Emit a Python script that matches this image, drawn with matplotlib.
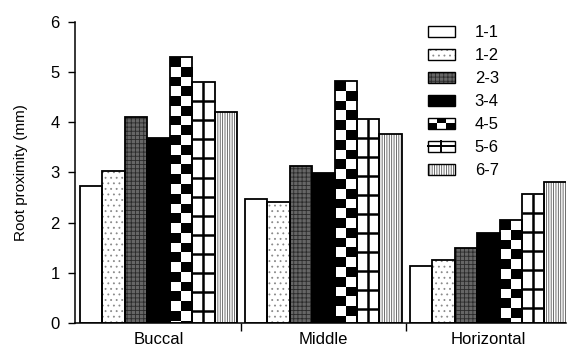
import numpy as np
import matplotlib
matplotlib.use('Agg')
import matplotlib.pyplot as plt
from matplotlib.patches import Rectangle
from matplotlib.lines import Line2D
from matplotlib.legend_handler import HandlerBase

plt.rcParams['font.family'] = ['Liberation Sans', 'DejaVu Sans']
plt.rcParams['hatch.linewidth'] = 0.6

# data (mm)
regions = ['Buccal', 'Middle', 'Horizontal']
pairs = ['1-1', '1-2', '2-3', '3-4', '4-5', '5-6', '6-7']
buccal = [2.74, 3.02, 4.10, 3.69, 5.31, 4.80, 4.20]
middle = [2.48, 2.41, 3.12, 2.98, 4.82, 4.07, 3.77]
horizontal = [1.13, 1.25, 1.50, 1.80, 2.05, 2.58, 2.82]
yticks = [0, 1, 2, 3, 4, 5, 6]

# fill style of each tooth pair
styles = {
    '1-1': dict(fc='white'),
    '1-2': dict(fc='white', hatch='...', hc='#8a8a8a'),
    '2-3': dict(fc='#666666', hatch='++++', hc='#2a2a2a'),
    '3-4': dict(fc='black'),
    '4-5': dict(kind='checker'),
    '5-6': dict(kind='grid'),
    '6-7': dict(fc='white', hatch='|||||||', hc='#555555'),
}
cell_checker = 0.195
cell_grid = 0.38


class PatternHandler(HandlerBase):
    def create_artists(self, legend, orig_handle, xdescent, ydescent,
                       width, height, fontsize, trans):
        st = styles[orig_handle.get_label()]
        x0, y0 = -xdescent, -ydescent
        arts = []
        kind = st.get('kind')
        if kind == 'checker':
            arts.append(Rectangle((x0, y0), width, height, fc='white', ec='none', transform=trans))
            cw, ch = width / 3, height / 2
            for c in range(3):
                for r in range(2):
                    if (c + r) % 2 == 0:
                        arts.append(Rectangle((x0 + c * cw, y0 + r * ch), cw, ch,
                                              fc='black', ec='none', transform=trans))
        elif kind == 'grid':
            arts.append(Rectangle((x0, y0), width, height, fc='white', ec='none', transform=trans))
            arts.append(Line2D([x0 + width / 2] * 2, [y0, y0 + height], color='black', lw=1.4, transform=trans))
            arts.append(Line2D([x0, x0 + width], [y0 + height / 2] * 2, color='black', lw=1.4, transform=trans))
        else:
            arts.append(Rectangle((x0, y0), width, height, fc=st['fc'], ec=st.get('hc', 'none'),
                                  lw=0, hatch=st.get('hatch'), transform=trans))
        arts.append(Rectangle((x0, y0), width, height, fill=False, ec='black', lw=1.0, transform=trans))
        return arts


fig = plt.figure(figsize=(5.7, 3.55), dpi=100)
ax = fig.add_axes([0.1316, 0.0910, 0.8614, 0.8462])

x = np.arange(len(regions))
bw = 0.1358
vals = np.array([buccal, middle, horizontal])

for i, p in enumerate(pairs):
    xs = x + (i - 3) * bw
    h = vals[:, i]
    st = styles[p]
    kind = st.get('kind')
    if kind == 'checker':
        bars = ax.bar(xs, h, bw, color='white', linewidth=0, zorder=1)
        for b in bars:
            x0, w, hh = b.get_x(), b.get_width(), b.get_height()
            nr = int(np.ceil(hh / cell_checker))
            img = np.add.outer(np.arange(nr)[::-1], np.arange(2)) % 2
            im = ax.imshow(img, cmap='gray', origin='lower', aspect='auto',
                           interpolation='nearest', zorder=2,
                           extent=(x0, x0 + w, hh - nr * cell_checker, hh))
            im.set_clip_path(b)
    elif kind == 'grid':
        bars = ax.bar(xs, h, bw, color='white', linewidth=0, zorder=1)
        for b in bars:
            x0, w, hh = b.get_x(), b.get_width(), b.get_height()
            ys = np.arange(hh - cell_grid, 0.05, -cell_grid)
            ax.hlines(ys, x0, x0 + w, color='black', lw=1.8, zorder=2)
            ax.vlines(x0 + w / 2, 0, hh, color='black', lw=1.8, zorder=2)
    else:
        ax.bar(xs, h, bw, color=st['fc'], edgecolor=st.get('hc', st['fc']),
               linewidth=0, hatch=st.get('hatch'), zorder=1)
    ax.bar(xs, h, bw, fill=False, edgecolor='black', linewidth=1.3, zorder=3)

handles = [Rectangle((0, 0), 1, 1, label=p) for p in pairs]
ax.legend(handles=handles, labels=pairs, handler_map={Rectangle: PatternHandler()},
          loc='upper left', bbox_to_anchor=(0.719, 0.99), frameon=False,
          fontsize=12, handlelength=1.6, handleheight=0.7, handletextpad=1.2,
          labelspacing=0.48, borderpad=0, borderaxespad=0)

ax.set_xlim(-0.506, 2.47)
ax.set_ylim(0, 6)
ax.set_yticks(yticks)
ax.tick_params(axis='y', labelsize=12, length=5, width=1, direction='out', pad=6)
ax.set_xticks([0.5, 1.5])
ax.set_xticklabels([])
ax.set_xticks(x, minor=True)
ax.set_xticklabels(regions, minor=True)
ax.tick_params(axis='x', which='major', length=6, width=1, direction='out')
ax.tick_params(axis='x', which='minor', length=0, pad=7, labelsize=12)
ax.set_ylabel('Root proximity (mm)', fontsize=11, labelpad=16)
for s in ['top', 'right']:
    ax.spines[s].set_visible(False)
for s in ['left', 'bottom']:
    ax.spines[s].set_linewidth(1.1)

fig.savefig('out.png', dpi=100)
